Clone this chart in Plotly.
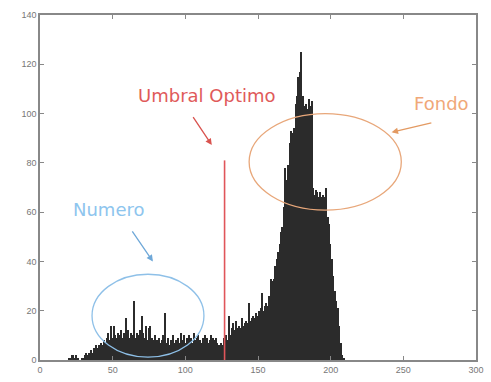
import plotly.graph_objects as go

# ---- data ----
bins = list(range(0, 256))
counts_20_210 = [
    1, 1, 2, 2, 1, 2, 1, 0, 0, 1,          # 20-29
    1, 2, 3, 2, 3, 4, 3, 5, 4, 6,          # 30-39
    5, 6, 7, 6, 8, 7, 9, 11, 8, 14,        # 40-49
    9, 14, 10, 9, 11, 10, 12, 9, 11, 17,   # 50-59
    10, 12, 9, 11, 10, 24, 9, 11, 10, 12,  # 60-69
    18, 11, 9, 14, 8, 13, 14, 9, 8, 10,    # 70-79
    7, 8, 9, 7, 8, 10, 19, 7, 9, 6,        # 80-89
    8, 6, 10, 7, 8, 9, 7, 11, 8, 10,       # 90-99
    7, 9, 8, 10, 9, 7, 11, 8, 9, 10,       # 100-109
    8, 7, 9, 8, 10, 9, 7, 8, 10, 9,        # 110-119
    8, 9, 7, 6, 5, 7, 6, 9, 10, 8,         # 120-129
    18, 10, 13, 15, 12, 16, 13, 14, 13, 17,  # 130-139
    14, 15, 16, 15, 23, 16, 17, 18, 17, 19,  # 140-149
    18, 20, 21, 27, 20, 22, 23, 22, 26, 33,  # 150-159
    32, 33, 38, 41, 44, 47, 52, 54, 62, 78,  # 160-169
    73, 79, 88, 93, 92, 94, 104, 107, 115, 117,  # 170-179
    125, 107, 103, 104, 102, 106, 103, 105, 70, 67,  # 180-189
    69, 68, 66, 68, 66, 67, 66, 70, 58, 55,  # 190-199
    47, 41, 34, 28, 24, 21, 14, 7, 2, 1,     # 200-209
    0,                                       # 210
]
counts = [0] * 20 + counts_20_210 + [0] * (256 - 20 - len(counts_20_210))

threshold = 127
threshold_height = 81

x_ticks = [0, 50, 100, 150, 200, 250, 300]
y_ticks = [0, 20, 40, 60, 80, 100, 120, 140]

fig = go.Figure()
fig.add_trace(go.Bar(
    x=bins, y=counts, width=1,
    marker=dict(color="#2b2b2b", line=dict(width=0)),
    showlegend=False, hoverinfo="skip",
))
fig.add_trace(go.Scatter(
    x=[threshold, threshold], y=[0, threshold_height], mode="lines",
    line=dict(color="#e0555a", width=1.6), showlegend=False, hoverinfo="skip",
))

tick_font = "Liberation Sans, Arial, sans-serif"
text_font = "DejaVu Sans, sans-serif"

fig.update_layout(
    width=491, height=382,
    margin=dict(l=40, r=7, t=15, b=17),
    plot_bgcolor="white", paper_bgcolor="white",
    bargap=0,
    font=dict(family=tick_font, size=9, color="#666666"),
    xaxis=dict(range=[0, 300], tickvals=x_ticks, ticks="inside", ticklen=4,
               tickcolor="#888888", showline=True, linecolor="#888888", linewidth=1.5,
               mirror="ticks", showgrid=False, zeroline=False,
               tickfont=dict(size=9, color="#777777")),
    yaxis=dict(range=[0, 140], tickvals=y_ticks, ticks="inside", ticklen=4,
               tickcolor="#888888", showline=True, linecolor="#888888", linewidth=1.5,
               mirror="ticks", showgrid=False, zeroline=False,
               tickfont=dict(size=9, color="#777777")),
)

# ellipses
fig.add_shape(type="circle", xref="x", yref="y", x0=35.8, x1=112.8, y0=1.2, y1=34.8,
              line=dict(color="#8ec0e8", width=1.3))
fig.add_shape(type="circle", xref="x", yref="y", x0=143.9, x1=248.6, y0=60.8, y1=100,
              line=dict(color="#e8a77a", width=1.3))

# annotations with arrows
fig.add_annotation(x=118.2, y=87.2, ax=104.7, ay=99.2, xref="x", yref="y", axref="x", ayref="y",
                   showarrow=True, arrowhead=2, arrowsize=1, arrowwidth=1.3, arrowcolor="#d9534f", text="")
fig.add_annotation(x=241.9, y=92.4, ax=270.3, ay=96.4, xref="x", yref="y", axref="x", ayref="y",
                   showarrow=True, arrowhead=2, arrowsize=1, arrowwidth=1.3, arrowcolor="#e39a62", text="")
fig.add_annotation(x=77.7, y=40, ax=62.8, ay=52.8, xref="x", yref="y", axref="x", ayref="y",
                   showarrow=True, arrowhead=2, arrowsize=1, arrowwidth=1.3, arrowcolor="#6fa8d8", text="")

fig.add_annotation(x=114.9, y=107.2, xref="x", yref="y", text="Umbral Optimo", showarrow=False,
                   font=dict(family=text_font, size=18, color="#e05a5a"))
fig.add_annotation(x=276, y=104, xref="x", yref="y", text="Fondo", showarrow=False,
                   font=dict(family=text_font, size=18, color="#f0a878"))
fig.add_annotation(x=47.3, y=61.2, xref="x", yref="y", text="Numero", showarrow=False,
                   font=dict(family=text_font, size=18, color="#8ec5ee"))

fig.write_html("out.html",
               config={"displayModeBar": False},
               post_script="document.body.style.margin='0';document.body.style.overflow='hidden';")
